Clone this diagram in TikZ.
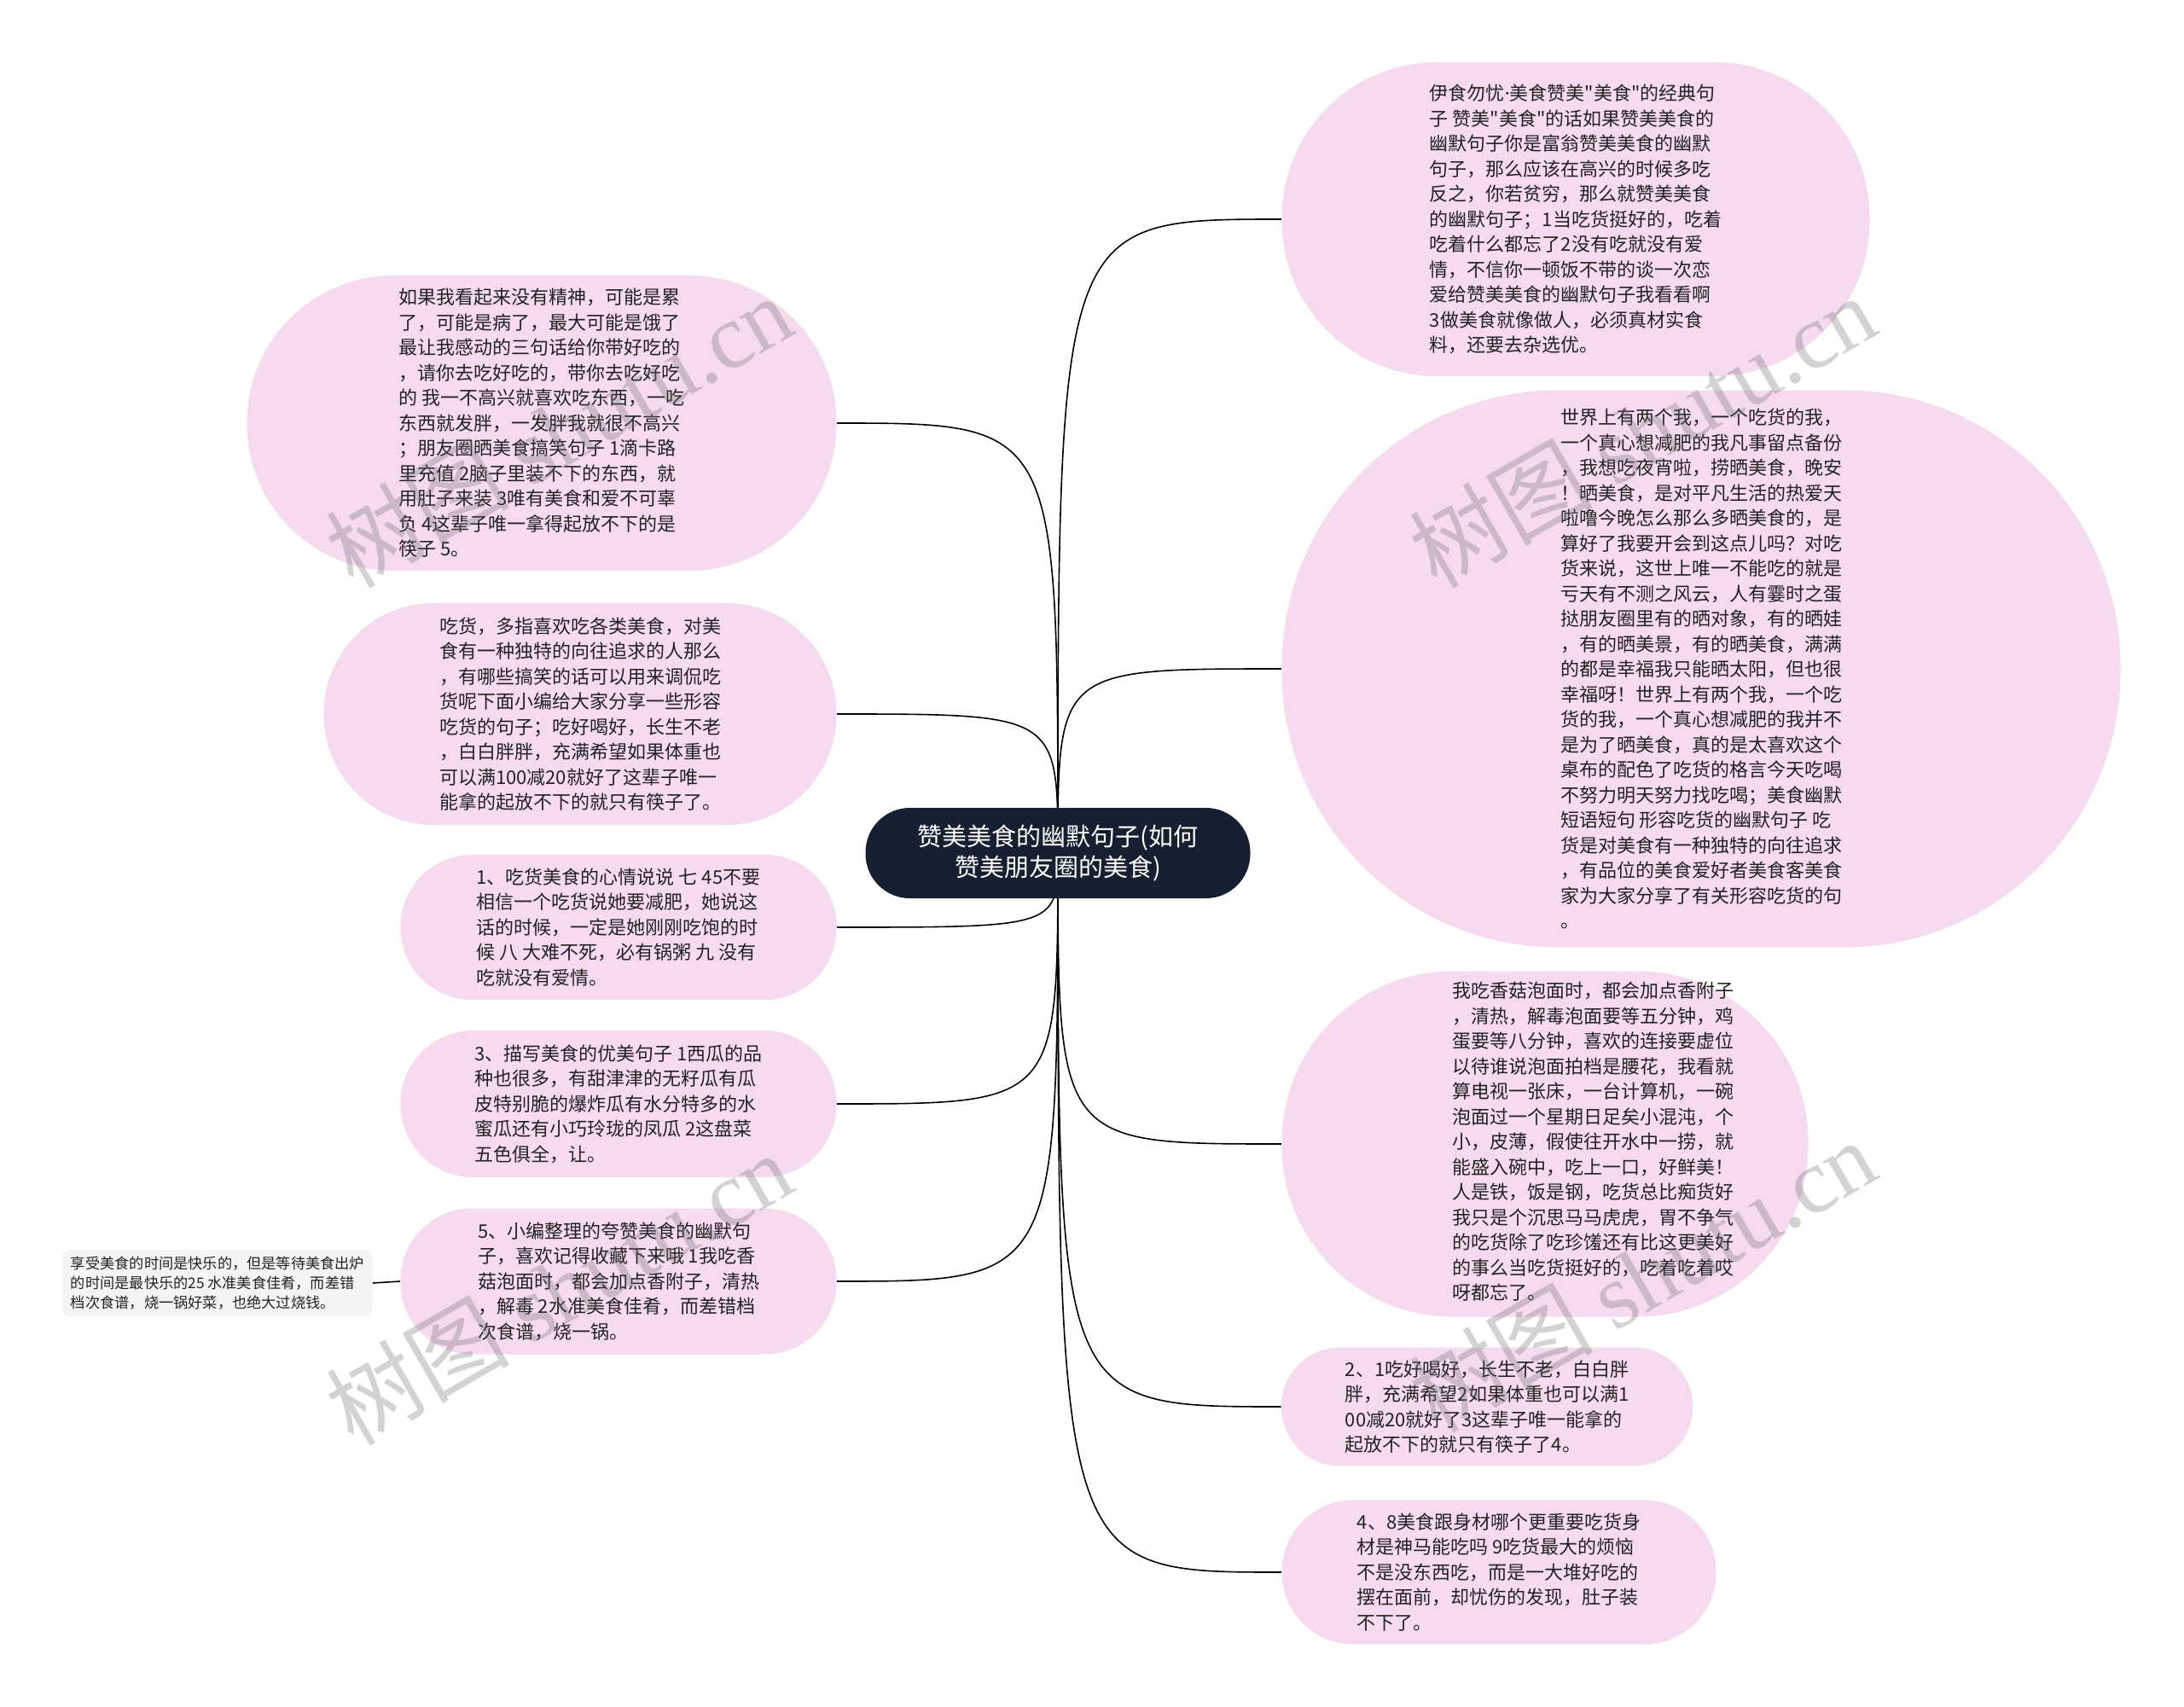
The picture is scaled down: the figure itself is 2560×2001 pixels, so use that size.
\documentclass[tikz,border=0pt]{standalone}
\usepackage{fontspec}
\setmainfont{Noto Sans CJK SC}
\newfontfamily\wmserif{Liberation Serif}
\newfontfamily\latinfont{Noto Sans}
\usetikzlibrary{backgrounds}
\definecolor{pinkfill}{RGB}{245,218,240}
\definecolor{rootfill}{RGB}{22,32,48}
\definecolor{leaffill}{RGB}{244,244,244}
\definecolor{txt}{RGB}{34,34,34}
\definecolor{wmcol}{RGB}{110,110,110}
\newcommand{\qd}{\textquotedbl}
\begin{document}
\begin{tikzpicture}[x=0.5pt,y=-0.5pt,
  bubble/.style n args={3}{shape=rectangle, fill=pinkfill, draw=none,
    rounded corners=#3, minimum width=#1, minimum height=#2, inner sep=0pt,
    align=left, text=txt, font=\fontsize{11pt}{14.75pt}\selectfont},
  rootnode/.style={shape=rectangle, fill=rootfill, draw=none, rounded corners=26pt,
    minimum width=225.5pt, minimum height=53pt, inner sep=0pt, align=center,
    text=white, font=\fontsize{14.5pt}{18.3pt}\selectfont},
  leafnode/.style={shape=rectangle, fill=leaffill, draw=none, rounded corners=4pt,
    minimum width=181.5pt, minimum height=39pt, inner sep=0pt, align=left,
    text=txt, font=\fontsize{8.6pt}{11.5pt}\selectfont},
  link/.style={draw=black, line width=0.8pt},
  watermark/.style={text=wmcol, opacity=0.3, rotate=30, inner sep=0pt,
    font=\fontsize{54pt}{60pt}\selectfont}
]
\useasboundingbox (0,0) rectangle (2560,2001);

% root
\node[rootnode] (root) at (1240,1000) {赞美美食的幽默句子(如何\\赞美朋友圈的美食)};

% right side
\node[bubble={344.5pt}{184pt}{91pt}] (r1) at (1847,257) {伊食勿忧{\latinfont ·}美食赞美\qd 美食\qd 的经典句\\子 赞美\qd 美食\qd 的话如果赞美美食的\\幽默句子你是富翁赞美美食的幽默\\句子，那么应该在高兴的时候多吃\\反之，你若贫穷，那么就赞美美食\\的幽默句子；1当吃货挺好的，吃着\\吃着什么都忘了2没有吃就没有爱\\情，不信你一顿饭不带的谈一次恋\\爱给赞美美食的幽默句子我看看啊\\3做美食就像做人，必须真材实食\\料，还要去杂选优。};

\node[bubble={491.5pt}{326.5pt}{162pt}] (r2) at (1994,784) {世界上有两个我，一个吃货的我，\\一个真心想减肥的我凡事留点备份\\，我想吃夜宵啦，捞晒美食，晚安\\！晒美食，是对平凡生活的热爱天\\啦噜今晚怎么那么多晒美食的，是\\算好了我要开会到这点儿吗？对吃\\货来说，这世上唯一不能吃的就是\\亏天有不测之风云，人有霎时之蛋\\挞朋友圈里有的晒对象，有的晒娃\\，有的晒美景，有的晒美食，满满\\的都是幸福我只能晒太阳，但也很\\幸福呀！世界上有两个我，一个吃\\货的我，一个真心想减肥的我并不\\是为了晒美食，真的是太喜欢这个\\桌布的配色了吃货的格言今天吃喝\\不努力明天努力找吃喝；美食幽默\\短语短句 形容吃货的幽默句子 吃\\货是对美食有一种独特的向往追求\\，有品位的美食爱好者美食客美食\\家为大家分享了有关形容吃货的句\\。};

\node[bubble={308.5pt}{202.5pt}{100pt}] (r3) at (1811,1341) {\hspace*{56pt}\begin{tabular}{@{}l@{}}我吃香菇泡面时，都会加点香附子\\，清热，解毒泡面要等五分钟，鸡\\蛋要等八分钟，喜欢的连接要虚位\\以待谁说泡面拍档是腰花，我看就\\算电视一张床，一台计算机，一碗\\泡面过一个星期日足矣小混沌，个\\小，皮薄，假使往开水中一捞，就\\能盛入碗中，吃上一口，好鲜美！\\人是铁，饭是钢，吃货总比痴货好\\我只是个沉思马马虎虎，胃不争气\\的吃货除了吃珍馐还有比这更美好\\的事么当吃货挺好的，吃着吃着哎\\呀都忘了。\end{tabular}};

\node[bubble={241pt}{69.5pt}{34.5pt}] (r4) at (1743,1649) {2、1吃好喝好，长生不老，白白胖\\胖，充满希望2如果体重也可以满1\\00减20就好了3这辈子唯一能拿的\\起放不下的就只有筷子了4。};

\node[bubble={254.5pt}{84.5pt}{42pt}] (r5) at (1757,1843) {4、8美食跟身材哪个更重要吃货身\\材是神马能吃吗 9吃货最大的烦恼\\不是没东西吃，而是一大堆好吃的\\摆在面前，却忧伤的发现，肚子装\\不下了。};

% left side
\node[bubble={345.5pt}{173pt}{86pt}] (l1) at (635,496) {如果我看起来没有精神，可能是累\\了，可能是病了，最大可能是饿了\\最让我感动的三句话给你带好吃的\\，请你去吃好吃的，带你去吃好吃\\的 我一不高兴就喜欢吃东西，一吃\\东西就发胖，一发胖我就很不高兴\\；朋友圈晒美食搞笑句子 1滴卡路\\里充值 2脑子里装不下的东西，就\\用肚子来装 3唯有美食和爱不可辜\\负 4这辈子唯一拿得起放不下的是\\筷子 5。};

\node[bubble={300.5pt}{130pt}{64.5pt}] (l2) at (680,837) {吃货，多指喜欢吃各类美食，对美\\食有一种独特的向往追求的人那么\\，有哪些搞笑的话可以用来调侃吃\\货呢下面小编给大家分享一些形容\\吃货的句子；吃好喝好，长生不老\\，白白胖胖，充满希望如果体重也\\可以满100减20就好了这辈子唯一\\能拿的起放不下的就只有筷子了。};

\node[bubble={255.5pt}{85pt}{42pt}] (l3) at (725,1087) {1、吃货美食的心情说说 七 45不要\\相信一个吃货说她要减肥，她说这\\话的时候，一定是她刚刚吃饱的时\\候 八 大难不死，必有锅粥 九 没有\\吃就没有爱情。};

\node[bubble={255.5pt}{86pt}{42.5pt}] (l4) at (725,1294) {3、描写美食的优美句子 1西瓜的品\\种也很多，有甜津津的无籽瓜有瓜\\皮特别脆的爆炸瓜有水分特多的水\\蜜瓜还有小巧玲珑的凤瓜 2这盘菜\\五色俱全，让。};

\node[bubble={255.5pt}{85.5pt}{42pt}] (l5) at (725,1502) {5、小编整理的夸赞美食的幽默句\\子，喜欢记得收藏下来哦 1我吃香\\菇泡面时，都会加点香附子，清热\\，解毒 2水准美食佳肴，而差错档\\次食谱，烧一锅。};

\node[leafnode] (leaf) at (255,1504) {享受美食的时间是快乐的，但是等待美食出炉\\的时间是最快乐的25 水准美食佳肴，而差错\\档次食谱，烧一锅好菜，也绝大过烧钱。};

% connectors behind the nodes
\begin{scope}[on background layer]
  \fill[white] (0,0) rectangle (2560,2001);
  \foreach \n in {l1,l2,l3,l4,l5}
    \draw[link] (root.center) .. controls (root.center |- \n.east) .. (\n.east);
  \foreach \n in {r1,r2,r3,r4,r5}
    \draw[link] (root.center) .. controls (root.center |- \n.west) .. (\n.west);
  \draw[link] (leaf.east) -- (l5.west);
\end{scope}

% watermarks
\node[watermark] (wm1) at (655,505) {树图 {\wmserif shutu.cn}};
\node[watermark] (wm2) at (1925,505) {树图 {\wmserif shutu.cn}};
\node[watermark] (wm3) at (655,1510) {树图 {\wmserif shutu.cn}};
\node[watermark] (wm4) at (1925,1495) {树图 {\wmserif shutu.cn}};
\end{tikzpicture}
\end{document}
